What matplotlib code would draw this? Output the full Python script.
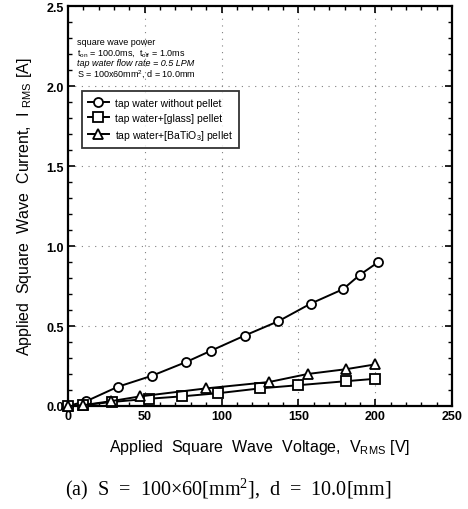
import matplotlib
matplotlib.use("Agg")
import matplotlib.pyplot as plt
from matplotlib.ticker import MultipleLocator

plt.rcParams['font.family'] = ['Liberation Sans', 'DejaVu Sans']
plt.rcParams['mathtext.default'] = 'regular'

# applied RMS voltage [V] and RMS current [A] for each electrode setup
v_plain = [0, 12, 32.5, 55, 77, 93, 115, 137, 158, 179, 190, 202]
i_plain = [0, 0.03, 0.12, 0.19, 0.275, 0.345, 0.44, 0.53, 0.64, 0.73, 0.82, 0.90]

v_glass = [0, 10, 28.5, 52.5, 74, 98, 125, 150, 181, 200]
i_glass = [0, 0.005, 0.025, 0.045, 0.06, 0.08, 0.11, 0.13, 0.155, 0.17]

v_batio = [0, 10, 28, 47, 90, 131, 156, 181, 200]
i_batio = [0, 0.005, 0.03, 0.06, 0.11, 0.15, 0.20, 0.23, 0.26]

labels = ["tap water without pellet",
          "tap water+[glass] pellet",
          "tap water+[BaTiO$_3$] pellet"]

fig = plt.figure(figsize=(4.68, 5.10), dpi=100)
ax = fig.add_axes([0.145, 0.202, 0.821, 0.784])

style = dict(color='black', lw=1.4, markersize=6.5, markerfacecolor='white',
             markeredgewidth=1.3, clip_on=False, zorder=3)
ax.plot(v_plain, i_plain, marker='o', label=labels[0], **style)
ax.plot(v_glass, i_glass, marker='s', label=labels[1], **style)
ax.plot(v_batio, i_batio, marker='^', label=labels[2], **style)

ax.set_xlim(0, 250)
ax.set_ylim(0, 2.5)
ax.xaxis.set_major_locator(MultipleLocator(50))
ax.xaxis.set_minor_locator(MultipleLocator(10))
ax.yaxis.set_major_locator(MultipleLocator(0.5))
ax.yaxis.set_minor_locator(MultipleLocator(0.1))
ax.yaxis.set_major_formatter(lambda v, p: f"{v:.1f}")
ax.tick_params(which='both', direction='in', top=True, right=True)
ax.tick_params(which='major', length=5, width=1.2, labelsize=9, pad=3)
ax.tick_params(which='minor', length=3, width=1.0)
for lab in ax.get_xticklabels() + ax.get_yticklabels():
    lab.set_fontweight('bold')
for sp in ax.spines.values():
    sp.set_linewidth(1.6)

ax.grid(True, which='major', color='gray', linestyle=(0, (1, 5)), lw=0.8)

ax.set_xlabel("Applied  Square  Wave  Voltage,  V$_{RMS}$ [V]", fontsize=11.5, labelpad=11)
ax.set_ylabel("Applied  Square  Wave  Current,  I $_{RMS}$ [A]", fontsize=11.5, labelpad=9)

# test conditions, one line at a time
cond_lines = [("square wave power", 'normal'),
              ("t$_{on}$ = 100.0ms,  t$_{off}$ = 1.0ms", 'normal'),
              ("tap water flow rate = 0.5 LPM", 'italic'),
              ("S = 100x60mm$^2$, d = 10.0mm", 'normal')]
for k, (txt, st) in enumerate(cond_lines):
    ax.text(0.025, 0.912 - k * 0.027, txt, transform=ax.transAxes,
            fontsize=6.5, fontstyle=st, va='center', ha='left')

leg = ax.legend(loc='upper left', bbox_to_anchor=(0.022, 0.8), fontsize=7.5,
                frameon=True, fancybox=False, edgecolor='black',
                handlelength=2.0, borderpad=0.6, labelspacing=0.5,
                handletextpad=0.6)
leg.get_frame().set_linewidth(1.3)

fig.text(0.487, 0.04, "(a)  S  =  100×60[mm$^2$],  d  =  10.0[mm]",
         family=['Liberation Serif', 'DejaVu Serif'], fontsize=14.5,
         ha='center', va='center')

fig.savefig("out.png", dpi=100)
